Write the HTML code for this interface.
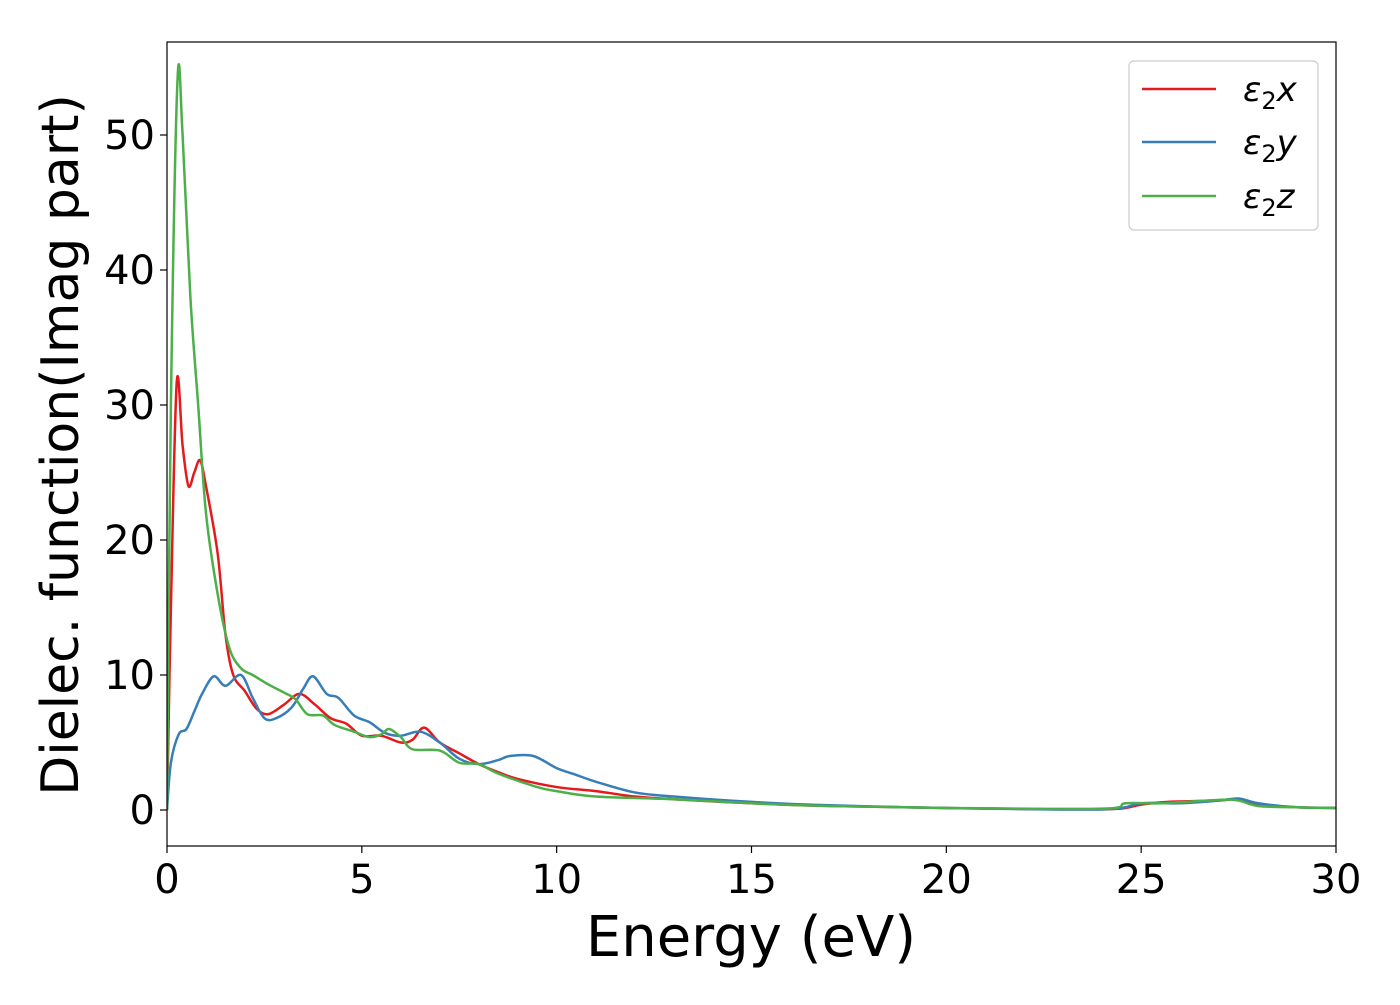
<!DOCTYPE html>
<html><head><meta charset="utf-8"><style>
body{margin:0;background:#fff}
text{font-family:"DejaVu Sans","Liberation Sans",sans-serif;fill:#000}
</style></head><body>
<svg id="chart" width="1400" height="1000" xmlns="http://www.w3.org/2000/svg">
<g id="plot"></g>
</svg>
<script>
const energyX=[0,0.1,0.25,0.4,0.55,0.7,0.85,1.0,1.3,1.5,1.7,2.0,2.3,2.6,3.0,3.4,3.8,4.2,4.6,5.0,5.5,6.0,6.3,6.6,7.0,7.5,8.0,8.5,9.0,10,11,12,13,15,17,20,24,25,25.7,27,27.5,28,29,30];
const valuesX=[0,15,31.7,27,24,25,25.9,24,19,13,10,8.8,7.5,7.1,7.8,8.6,7.8,6.8,6.4,5.5,5.5,5.0,5.2,6.1,5.0,4.2,3.4,2.8,2.3,1.7,1.4,1.0,0.8,0.5,0.3,0.15,0.05,0.4,0.6,0.7,0.8,0.4,0.2,0.15];
const energyY=[0,0.1,0.3,0.5,0.7,0.9,1.2,1.5,1.9,2.2,2.5,2.8,3.2,3.5,3.75,4.1,4.4,4.8,5.2,5.6,6.0,6.5,7.0,7.5,8.0,8.5,8.8,9.4,10,10.5,11,12,13,15,17,20,24,25,26,27,27.5,28,29,30];
const valuesY=[0,3.5,5.6,6.0,7.3,8.6,9.9,9.2,10.0,8.3,6.8,6.8,7.6,9.0,9.9,8.6,8.3,7.0,6.5,5.7,5.5,5.8,5.0,3.8,3.4,3.7,4.0,4.0,3.1,2.6,2.1,1.3,1.0,0.6,0.35,0.15,0.05,0.5,0.5,0.7,0.85,0.5,0.2,0.15];
const energyZ=[0,0.1,0.27,0.4,0.6,0.8,1.0,1.3,1.6,1.9,2.2,2.6,3.0,3.3,3.6,4.0,4.3,4.8,5.2,5.5,5.7,6.0,6.3,7.0,7.5,8.0,8.5,9.5,10,11,13,15,17,20,24,24.6,25.5,27,27.5,28,29,30];
const valuesZ=[0,30,54.1,50,38,30,22,16,12,10.5,10.0,9.3,8.7,8.2,7.1,7.0,6.3,5.8,5.4,5.6,6.0,5.4,4.5,4.4,3.5,3.4,2.7,1.7,1.4,1.0,0.8,0.5,0.3,0.15,0.1,0.5,0.5,0.75,0.7,0.3,0.2,0.15];
const xTicks=[0,5,10,15,20,25,30];
const yTicks=[0,10,20,30,40,50];
const L=167,R=1336,T=42,B=846;
const sx=v=>L+(v/30)*(R-L);
const sy=v=>810-v*13.5;
const NS="http://www.w3.org/2000/svg";
const g=document.getElementById('plot');
function mk(t,a,p){const e=document.createElementNS(NS,t);for(const k in a)e.setAttribute(k,a[k]);(p||g).appendChild(e);return e;}
const clip=mk('clipPath',{id:'cl'});mk('rect',{x:L,y:T,width:R-L,height:B-T},clip);
function series(xs,ys,color,name){
  const pts=xs.map((x,i)=>[sx(x),sy(ys[i])]);
  let d='M'+pts[0][0]+','+pts[0][1];
  for(let i=0;i<pts.length-1;i++){
    const p0=pts[Math.max(0,i-1)],p1=pts[i],p2=pts[i+1],p3=pts[Math.min(pts.length-1,i+2)];
    const c1x=p1[0]+(p2[0]-p0[0])/6,c1y=p1[1]+(p2[1]-p0[1])/6;
    const c2x=p2[0]-(p3[0]-p1[0])/6,c2y=p2[1]-(p3[1]-p1[1])/6;
    d+=` C${c1x},${c1y} ${c2x},${c2y} ${p2[0]},${p2[1]}`;
  }
  const e=mk('path',{d:d,fill:'none',stroke:color,'stroke-width':2.5,'clip-path':'url(#cl)'});
  
  
}
series(energyX,valuesX,'#e41a1c','series-eps2x');
series(energyY,valuesY,'#377eb8','series-eps2y');
series(energyZ,valuesZ,'#4daf4a','series-eps2z');
const frame=mk('rect',{x:L,y:T,width:R-L,height:B-T,fill:'none',stroke:'#000','stroke-width':1.2});


xTicks.forEach(v=>{
  mk('line',{x1:sx(v),x2:sx(v),y1:B,y2:B+7,stroke:'#000','stroke-width':1.2});
  const t=mk('text',{x:sx(v),y:B+47,'text-anchor':'middle','font-size':40});t.textContent=v;
  
  
});
yTicks.forEach(v=>{
  mk('line',{x1:L-7,x2:L,y1:sy(v),y2:sy(v),stroke:'#000','stroke-width':1.2});
  const t=mk('text',{x:L-12,y:sy(v)+14,'text-anchor':'end','font-size':40});t.textContent=v;
  
  
});
</script>
<svg style="position:absolute;left:0;top:0" width="1400" height="1000" xmlns="http://www.w3.org/2000/svg">
<text x="751" y="956" text-anchor="middle" font-size="56">Energy (eV)</text>
<text transform="translate(78,445) rotate(-90)" text-anchor="middle" font-size="52">Dielec. function(Imag part)</text>
<g>
<rect x="1129" y="61" width="189" height="169" rx="5" fill="#fff" stroke="#ccc" stroke-width="1.2"/>
<line x1="1142" x2="1216" y1="89" y2="89" stroke="#e41a1c" stroke-width="2.5"/>
<line x1="1142" x2="1216" y1="142" y2="142" stroke="#377eb8" stroke-width="2.5"/>
<line x1="1142" x2="1216" y1="196" y2="196" stroke="#4daf4a" stroke-width="2.5"/>
<text x="1243" y="101" font-size="34" font-style="italic">ε<tspan font-size="24" font-style="normal" dy="8">2</tspan><tspan dy="-8">x</tspan></text>
<text x="1243" y="154" font-size="34" font-style="italic">ε<tspan font-size="24" font-style="normal" dy="8">2</tspan><tspan dy="-8">y</tspan></text>
<text x="1243" y="208" font-size="34" font-style="italic">ε<tspan font-size="24" font-style="normal" dy="8">2</tspan><tspan dy="-8">z</tspan></text>
</g>
</svg>
</body></html>
